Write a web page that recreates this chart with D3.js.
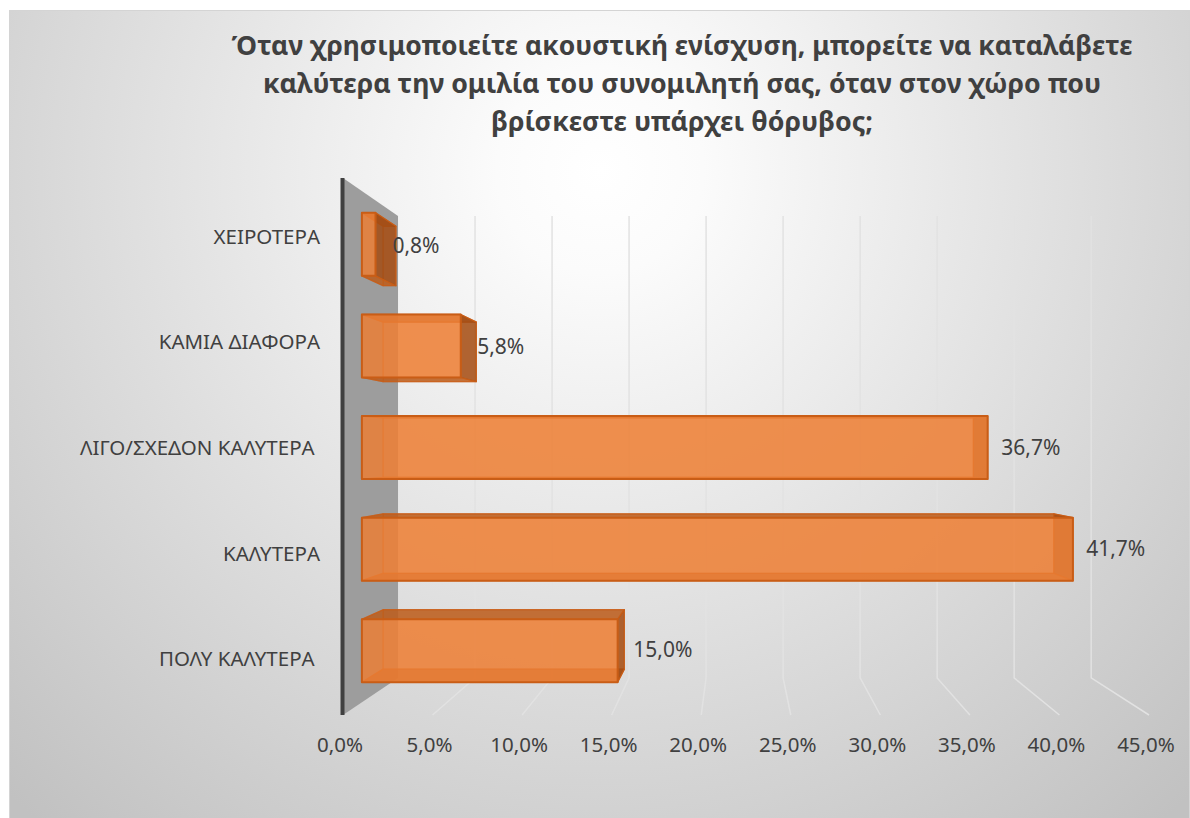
<!DOCTYPE html>
<html>
<head>
<meta charset="utf-8">
<script src="https://cdn.jsdelivr.net/npm/d3@7"></script>
<style>
  html, body { margin: 0; padding: 0; background: #ffffff; }
  svg { display: block; }
  text { font-family: "Noto Sans", "Open Sans", sans-serif; fill: #404040; white-space: pre; }
</style>
</head>
<body>
<svg id="chart" width="1190" height="818"></svg>
<script>
// Survey answers (top to bottom) and their shares
const categories = [
  "ΧΕΙΡΟΤΕΡΑ",
  "ΚΑΜΙΑ ΔΙΑΦΟΡΑ",
  "ΛΙΓΟ/ΣΧΕΔΟΝ ΚΑΛΥΤΕΡΑ ",
  "ΚΑΛΥΤΕΡΑ",
  "ΠΟΛΥ ΚΑΛΥΤΕΡΑ "
];
const values = [0.008, 0.058, 0.367, 0.417, 0.150];
const tickValues = [0, 0.05, 0.10, 0.15, 0.20, 0.25, 0.30, 0.35, 0.40, 0.45];
const titleLines = [
  "Όταν χρησιμοποιείτε ακουστική ενίσχυση, μπορείτε να καταλάβετε",
  "καλύτερα την ομιλία του συνομιλητή σας, όταν στον χώρο που",
  "βρίσκεστε υπάρχει θόρυβος;"
];

const W = 1190, H = 818;
const svg = d3.select("#chart");

// Greek number formatting: comma as decimal separator
const locale = d3.formatLocale({ decimal: ",", thousands: ".", grouping: [3], currency: ["", "€"] });
const pct = locale.format(".1%");

// ---- background ----
const defs = svg.append("defs");
const bg = defs.append("radialGradient").attr("id", "bgGrad")
  .attr("gradientUnits", "userSpaceOnUse")
  .attr("cx", 600).attr("cy", 170).attr("r", 860);
bg.append("stop").attr("offset", 0).attr("stop-color", "#ffffff");
bg.append("stop").attr("offset", 0.12).attr("stop-color", "#fbfbfb");
bg.append("stop").attr("offset", 1).attr("stop-color", "#c1c1c1");

svg.append("rect").attr("x", 9.5).attr("y", 10.5).attr("width", W - 10).attr("height", H - 10)
  .attr("fill", "url(#bgGrad)").attr("stroke", "#d4d4d4").attr("stroke-width", 1);

// ---- 3D projection ----
// Front-plane scales; depth factor k shrinks toward the vanishing point.
const x = d3.scaleLinear().domain([0, 0.45]).range([343, 1149]);
const y = d3.scaleBand().domain(categories).range([180.6, 714.3])
  .paddingInner(0.38).paddingOuter(0.19);
const VX = 736, VY = 450;
const K_WALL = 0.86, K_FRONT = 0.952, K_BACK = 0.898;
const P = (v, Y, k) => [VX + (x(v) - VX) * k, VY + (Y - VY) * k];
const Y_TOP = 178, Y_BOT = 715;

// ---- gridlines: back wall then floor ----
const grid = svg.append("g");
tickValues.filter(t => t > 0).forEach(t => {
  const a = P(t, Y_TOP, K_WALL), b = P(t, Y_BOT, K_WALL), c = P(t, Y_BOT, 1);
  grid.append("path")
    .attr("d", d3.line()([a, b, c]))
    .attr("fill", "none").attr("stroke", "#e2e2e2").attr("stroke-width", 1.5);
});

// ---- side wall ----
svg.append("path")
  .attr("d", d3.line()([P(0, Y_TOP, 1), P(0, Y_TOP, K_WALL), P(0, Y_BOT, K_WALL), P(0, Y_BOT, 1)]) + "Z")
  .attr("fill", "#9d9d9d");
svg.append("line")
  .attr("x1", x(0) - 0.5).attr("x2", x(0) - 0.5)
  .attr("y1", Y_TOP).attr("y2", Y_BOT)
  .attr("stroke", "#404040").attr("stroke-width", 4);

// ---- bars as translucent boxes ----
const barLayer = svg.append("g");
categories.forEach((cat, i) => {
  const v = values[i];
  const y0 = y(cat), y1 = y(cat) + y.bandwidth();
  const f = [P(0, y0, K_FRONT), P(v, y0, K_FRONT), P(v, y1, K_FRONT), P(0, y1, K_FRONT)];
  const b = [P(0, y0, K_BACK), P(v, y0, K_BACK), P(v, y1, K_BACK), P(0, y1, K_BACK)];
  const g = barLayer.append("g");
  const face = (pts, fill, op, sw, sop) => g.append("path")
    .attr("d", d3.line()(pts) + "Z")
    .attr("fill", fill).attr("fill-opacity", op)
    .attr("stroke", "#c95d16").attr("stroke-width", sw).attr("stroke-opacity", sop)
    .attr("stroke-linejoin", "round");
  face(b, "#ed7d31", 0.35, 1.2, 0.5);                             // back
  face([b[0], b[1], f[1], f[0]], "#b85a1a", 0.8, 1.2, 0.8);       // top
  face([b[3], b[2], f[2], f[3]], "#b85a1a", 0.8, 1.2, 0.8);       // bottom
  face([b[0], b[3], f[3], f[0]], "#c8631f", 0.2, 1.2, 0.5);       // left
  face([b[1], b[2], f[2], f[1]], "#a04a12", 0.8, 1.2, 0.9);       // right
  face(f, "#ee7f36", 0.8, 2, 1);                                  // front
});

// ---- value labels ----
categories.forEach((cat, i) => {
  const v = values[i];
  const p = P(v, y(cat) + y.bandwidth() / 2, 0.947);
  svg.append("text")
    .attr("x", p[0] + 15).attr("y", p[1] + 2)
    .attr("dominant-baseline", "middle")
    .attr("font-size", 21)
    .text(pct(v));
});

// ---- category labels ----
categories.forEach(cat => {
  const p = P(0, y(cat) + y.bandwidth() / 2, 0.99);
  svg.append("text")
    .attr("x", 320).attr("y", p[1] + 2)
    .attr("text-anchor", "end").attr("dominant-baseline", "middle")
    .attr("font-size", 20.5)
    .text(cat);
});

// ---- value axis labels ----
svg.append("g").selectAll("text").data(tickValues).join("text")
  .attr("x", d => x(d) - 3).attr("y", 746)
  .attr("text-anchor", "middle").attr("dominant-baseline", "middle")
  .attr("font-size", 20.5)
  .text(d => pct(d));

// ---- title ----
const titleWidths = [901, 838, 382];
svg.append("g").selectAll("text").data(titleLines).join("text")
  .attr("x", 682).attr("y", (d, i) => 55 + i * 38)
  .attr("text-anchor", "middle")
  .attr("font-size", 27).attr("font-weight", "bold")
  .attr("fill", "#3d3d3d")
  .attr("textLength", (d, i) => titleWidths[i])
  .attr("lengthAdjust", "spacingAndGlyphs")
  .text(d => d);
</script>
</body>
</html>
